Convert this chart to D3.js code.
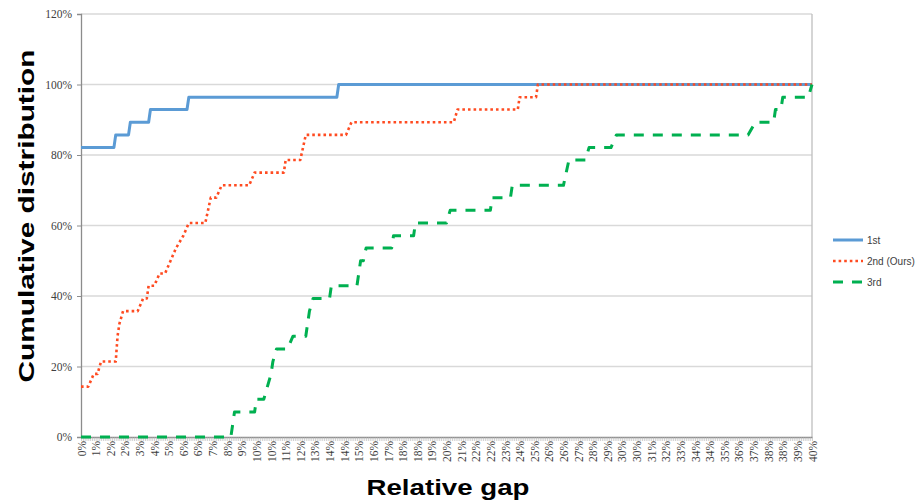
<!DOCTYPE html>
<html>
<head>
<meta charset="utf-8">
<script src="https://cdn.jsdelivr.net/npm/d3@7"></script>
<style>
  html, body { margin: 0; padding: 0; background: #fff; }
  svg { display: block; }
</style>
</head>
<body>
<svg id="chart" width="917" height="502"></svg>
<script>
// ---- data ----
const xTickLabels = ["0%","1%","2%","2%","3%","4%","5%","6%","6%","7%","8%","9%","10%","10%","11%","12%","13%","14%","14%","15%","16%","17%","18%","18%","19%","20%","21%","22%","22%","23%","24%","25%","26%","26%","27%","28%","29%","30%","30%","31%","32%","33%","34%","34%","35%","36%","37%","38%","38%","39%","40%"];
const yTickValues = [0, 20, 40, 60, 80, 100, 120];
const seriesNames = ["1st", "2nd (Ours)", "3rd"];

// relative gap (%) -> cumulative distribution (%) vertices
const gap1st = [0,1.8,1.9,2.6,2.7,3.7,3.8,5.8,5.9,14.0,14.1,40];
const cdf1st = [82.1,82.1,85.7,85.7,89.3,89.3,92.9,92.9,96.4,96.4,100,100];

const gap2nd = [0,0.4,0.7,0.9,1.1,1.9,2.0,2.1,2.3,3.1,3.4,3.6,3.7,4.0,4.1,4.3,4.6,4.9,5.2,5.6,5.9,6.8,7.1,7.4,7.7,9.2,9.5,11.1,11.2,12.0,12.3,14.5,14.8,20.4,20.6,23.9,24.0,24.9,25.0,40];
const cdf2nd = [14.3,14.3,17.9,17.9,21.4,21.4,28.6,32.1,35.7,35.7,39.3,39.3,42.9,42.9,44.0,46.4,46.4,50.0,53.6,57.1,60.7,60.7,67.9,67.9,71.4,71.4,75.0,75.0,78.6,78.6,85.7,85.7,89.3,89.3,92.9,92.9,96.4,96.4,100,100];

const gap3rd = [0,8.2,8.4,9.5,9.6,10.0,10.2,10.4,10.5,10.7,11.3,11.6,12.3,12.5,12.7,13.6,13.7,15.1,15.3,15.45,15.6,17.0,17.1,18.2,18.3,20.0,20.2,22.4,22.5,23.5,23.6,26.4,26.7,27.6,27.8,29.0,29.3,36.5,36.9,37.9,38.0,38.3,38.4,39.8,40.0];
const cdf3rd = [0,0,7.1,7.1,10.7,10.7,14.3,17.9,21.4,25.0,25.0,28.6,28.6,35.7,39.3,39.3,42.9,42.9,50.0,50.0,53.6,53.6,57.1,57.1,60.7,60.7,64.3,64.3,67.9,67.9,71.4,71.4,78.6,78.6,82.1,82.1,85.7,85.7,89.3,89.3,92.9,92.9,96.4,96.4,100];

// ---- layout ----
const svg = d3.select("#chart");
const L = 81, R = 812, T = 14, B = 437;
const x = d3.scaleLinear().domain([0, 40]).range([L, R]);
const y = d3.scaleLinear().domain([0, 120]).range([B, T]);

// gridlines
svg.append("g").selectAll("line").data(yTickValues.filter(v => v > 0)).join("line")
  .attr("x1", L).attr("x2", R)
  .attr("y1", d => y(d)).attr("y2", d => y(d))
  .attr("stroke", "#d9d9d9").attr("stroke-width", 1.3);

// right border
svg.append("line").attr("x1", R).attr("x2", R).attr("y1", T).attr("y2", B)
  .attr("stroke", "#bfbfbf").attr("stroke-width", 1.3);

// y axis
const yAxis = d3.axisLeft(y).tickValues(yTickValues).tickFormat(d => d + "%").tickSize(4).tickPadding(5);
const gy = svg.append("g").attr("transform", `translate(${L},0)`).call(yAxis);
gy.select(".domain").attr("stroke", "#8c8c8c").attr("stroke-width", 1.3);
gy.selectAll(".tick line").attr("stroke", "#8c8c8c");
gy.selectAll(".tick text").attr("font-family", "'Liberation Serif', 'Times New Roman', serif")
  .attr("font-size", 11.5).attr("fill", "#404040");

// x axis: dense category ticks + labels
const catTicks = d3.range(0, 401).map(i => i / 10);
const xMinor = d3.axisBottom(x).tickValues(catTicks).tickFormat("").tickSize(4).tickSizeOuter(0);
const gxm = svg.append("g").attr("transform", `translate(0,${B})`).call(xMinor);
gxm.selectAll(".tick line").attr("stroke", "#b0b0b0").attr("stroke-width", 0.6);
gxm.select(".domain").attr("stroke", "#8c8c8c").attr("stroke-width", 1.3);

const labelGaps = xTickLabels.map((_, i) => i * 0.8);
const xAxis = d3.axisBottom(x).tickValues(labelGaps).tickFormat((d, i) => xTickLabels[i]).tickSize(0).tickSizeOuter(0);
const gx = svg.append("g").attr("transform", `translate(0,${B})`).call(xAxis);
gx.select(".domain").remove();
gx.selectAll(".tick text")
  .attr("font-family", "'Liberation Serif', 'Times New Roman', serif")
  .attr("font-size", 11.5).attr("fill", "#404040")
  .attr("text-anchor", "end")
  .attr("transform", "translate(0,4) rotate(-90)")
  .attr("x", 0).attr("y", 0).attr("dy", "0.35em");

// series
const line = d3.line().x(d => x(d[0])).y(d => y(d[1]));
const series = [
  { name: seriesNames[0], gx: gap1st, cy: cdf1st, color: "#5B9BD5", width: 3, dash: null },
  { name: seriesNames[1], gx: gap2nd, cy: cdf2nd, color: "#FF4B21", width: 2.6, dash: "2.6,3" },
  { name: seriesNames[2], gx: gap3rd, cy: cdf3rd, color: "#00B050", width: 3, dash: "10,9" }
];
series.forEach(s => {
  const pts = s.gx.map((g, i) => [g, s.cy[i]]);
  svg.append("path").datum(pts)
    .attr("d", line)
    .attr("fill", "none")
    .attr("stroke", s.color)
    .attr("stroke-width", s.width)
    .attr("stroke-linejoin", "round")
    .attr("stroke-dasharray", s.dash);
});

// legend
const leg = svg.append("g");
series.forEach((s, i) => {
  const ly = 240 + i * 21;
  leg.append("line").attr("x1", 833).attr("x2", 863).attr("y1", ly).attr("y2", ly)
    .attr("stroke", s.color).attr("stroke-width", s.width).attr("stroke-dasharray", s.dash);
  leg.append("text").attr("x", 867).attr("y", ly).attr("dy", "0.35em")
    .attr("font-family", "'Liberation Sans Narrow', 'Liberation Sans', Arial, sans-serif")
    .attr("font-size", 10).attr("fill", "#404040").text(s.name);
});

// axis titles
svg.append("text")
  .attr("transform", "translate(34,216) rotate(-90)")
  .attr("text-anchor", "middle")
  .attr("font-family", "'Liberation Sans', Arial, sans-serif")
  .attr("font-weight", "bold").attr("font-size", 22.5).attr("fill", "#000")
  .attr("textLength", 333).attr("lengthAdjust", "spacingAndGlyphs")
  .text("Cumulative distribution");

svg.append("text")
  .attr("x", 448).attr("y", 495)
  .attr("text-anchor", "middle")
  .attr("font-family", "'Liberation Sans', Arial, sans-serif")
  .attr("font-weight", "bold").attr("font-size", 22.5).attr("fill", "#000")
  .attr("textLength", 163).attr("lengthAdjust", "spacingAndGlyphs")
  .text("Relative gap");
</script>
</body>
</html>
